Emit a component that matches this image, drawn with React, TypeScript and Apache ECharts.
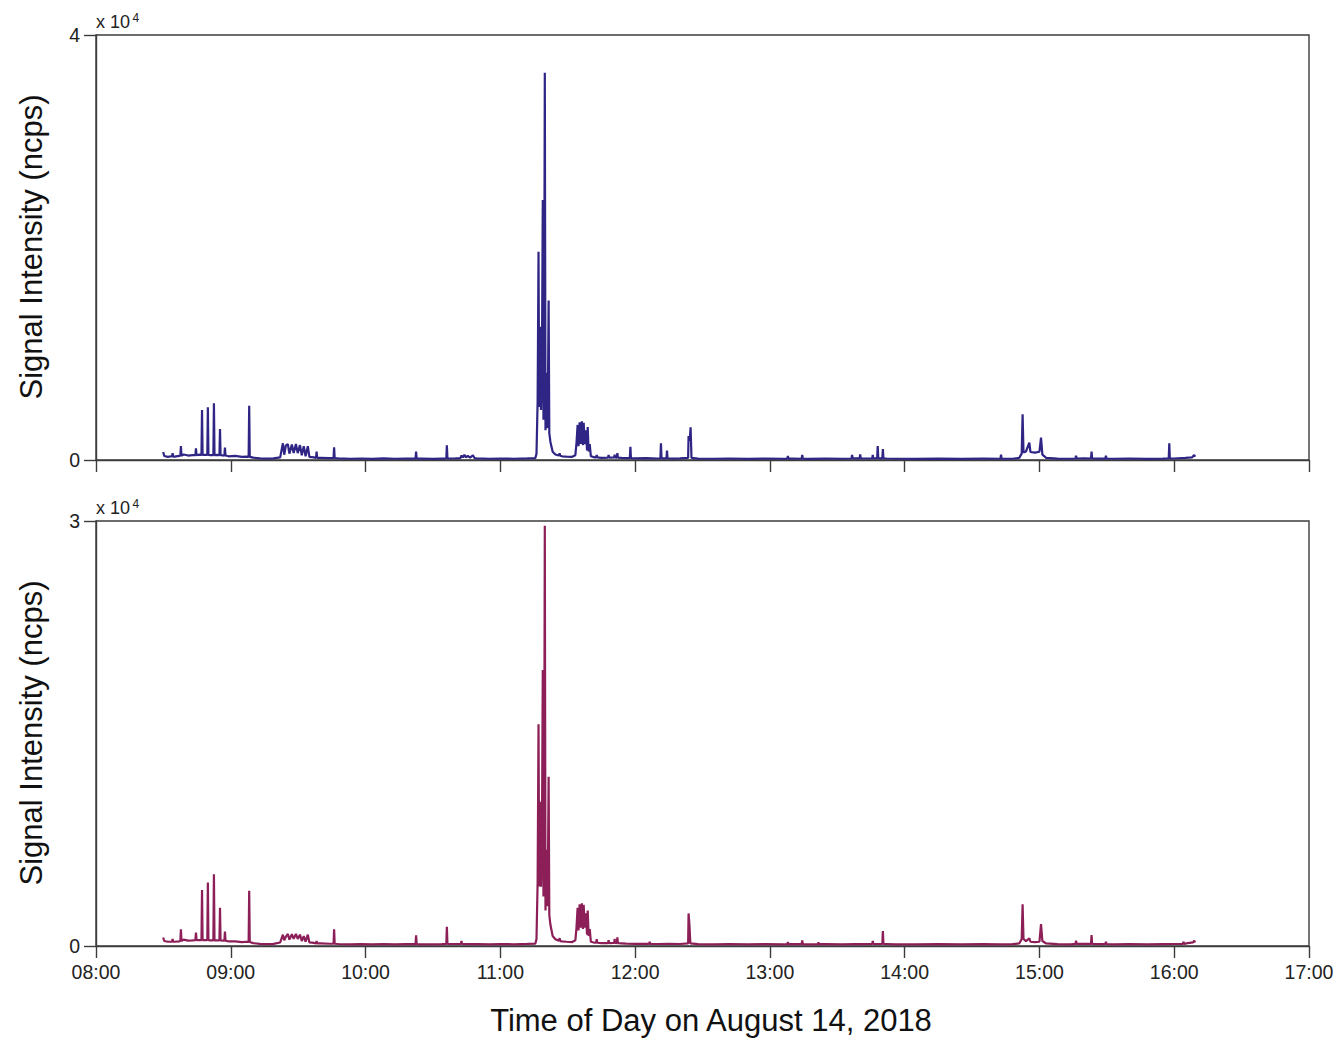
import React, { useEffect, useRef } from "react";
import * as echarts from "echarts";

// time in minutes after midnight, value in ncps
const topBaseline: [number, number][] = [
  [509.9, 750], [510.4, 380], [512, 300], [513.5, 350], [515, 320], [517, 380], [519, 520], [521, 420],
  [523, 450], [526, 500], [528.5, 480], [531, 450], [534, 480], [536.5, 430], [539, 350], [542, 380],
  [545, 300], [547, 320], [550, 220], [553, 150], [556, 130], [559, 160], [562, 250],
  [563.2, 1570], [563.8, 500], [564.5, 1350], [565.4, 1500], [566.1, 600], [567.2, 1450], [568, 650],
  [569, 1500], [569.8, 650], [570.8, 1400], [571.6, 450], [572.5, 1300], [573.3, 350], [574.3, 1300], [575, 300],
  [577, 250], [580, 200], [584, 180], [588, 150], [593, 120], [598, 140], [603, 110], [608, 150], [613, 120],
  [618, 140], [625, 130], [630, 110], [634, 130], [640, 150], [642.2, 180], [642.7, 420], [643.3, 250], [644, 500],
  [644.6, 260], [645.5, 380], [646.5, 220], [647.8, 450], [648.5, 180], [649.5, 150], [655, 120], [660, 140],
  [666, 120], [672, 150], [675.6, 180],
  [676.1, 600], [676.6, 5500], [677.0, 19600], [677.3, 5000], [677.6, 9000], [677.8, 12550], [678.1, 4700],
  [678.5, 8500], [678.9, 24470], [679.2, 3800], [679.5, 9500], [679.8, 36450], [680.1, 2800], [680.4, 8200],
  [680.8, 3000], [681.2, 6500], [681.5, 15000], [681.8, 2540], [682.3, 1700], [683.3, 780], [684.5, 520],
  [686, 420], [687.5, 350], [689.4, 310], [692, 300], [693.4, 450],
  [693.9, 1600], [694.4, 3300], [694.8, 1300], [695.3, 3550], [695.8, 1500], [696.3, 3650], [696.8, 1400],
  [697.1, 3500], [697.6, 1500], [698.1, 2800], [698.6, 900], [698.9, 3100], [699.3, 800], [699.8, 1500], [700.3, 350],
  [702, 250], [705, 200], [708, 230], [711, 250], [714, 200], [716, 180], [720, 150], [725, 170], [730, 140],
  [733, 160], [737, 130], [740, 150], [743.6, 200], [743.8, 2260], [744.3, 1800], [744.7, 3080], [745.1, 200],
  [748, 130], [755, 120], [762, 140], [770, 110], [778, 130], [786, 120], [790, 140], [797, 110], [805, 130],
  [812, 120], [818, 150], [823, 140], [826, 160], [832, 140], [836, 120], [845, 110], [855, 130], [865, 110],
  [875, 130], [882, 120], [888, 120], [891, 200], [892.1, 600], [892.5, 4300], [892.9, 700], [894, 800],
  [895.5, 1630], [896, 750], [898, 700], [900, 780], [900.7, 2100], [901.3, 500], [903, 200], [908, 130],
  [914, 120], [920, 150], [926, 130], [933, 120], [940, 140], [948, 110], [955, 130], [960, 140], [965, 200],
  [968, 250], [968.9, 470], [969.3, 300],
];

// [time, peak, surrounding level]
const topSpikes: [number, number, number][] = [
  [514.1, 650, 320], [517.8, 1300, 400], [524.5, 1100, 450], [527.2, 4700, 480], [529.8, 4960, 470],
  [532.5, 5330, 460], [535.2, 2920, 450], [537.4, 1160, 420], [548.2, 5110, 300], [578.2, 780, 200],
  [586.0, 1190, 170], [622.5, 780, 130], [636.2, 1380, 140], [686.4, 630, 400], [702.9, 480, 250],
  [708.2, 470, 230], [710.9, 500, 240], [712.1, 650, 230], [717.9, 1250, 180], [731.5, 1570, 150],
  [734.2, 880, 150], [788.0, 380, 130], [794.4, 470, 120], [816.6, 470, 140], [820.2, 530, 150],
  [825.8, 470, 150], [828.0, 1320, 160], [830.3, 1040, 150], [882.9, 500, 120], [916.3, 400, 140],
  [923.2, 780, 140], [929.6, 400, 130], [957.8, 1570, 140],
];

const bottomBaseline: [number, number][] = [
  [509.9, 600], [510.4, 350], [512, 300], [515, 300], [517, 330], [519, 450], [521, 380], [523, 400],
  [526, 420], [528.5, 420], [531, 400], [534, 400], [536.5, 380], [539, 320], [542, 330], [545, 280],
  [547, 300], [550, 200], [553, 150], [556, 130], [559, 150], [562, 250],
  [563.2, 800], [563.8, 400], [564.5, 650], [565.4, 850], [566.1, 450], [567.2, 830], [568, 500], [569, 850],
  [569.8, 500], [570.8, 800], [571.6, 350], [572.5, 700], [573.3, 300], [574.3, 800], [575, 250],
  [577, 220], [580, 180], [584, 160], [588, 140], [593, 120], [598, 130], [603, 110], [608, 140], [613, 120],
  [618, 130], [625, 120], [630, 110], [634, 130], [640, 140], [646, 130], [650, 140], [655, 120], [660, 140],
  [666, 120], [672, 150], [675.6, 170],
  [676.1, 500], [676.6, 4500], [677.0, 15650], [677.3, 4200], [677.6, 7500], [677.8, 10180], [678.1, 4190],
  [678.5, 7000], [678.9, 19480], [679.2, 3500], [679.5, 8000], [679.8, 29660], [680.1, 2500], [680.4, 6800],
  [680.8, 2800], [681.2, 5500], [681.5, 11950], [681.8, 2200], [682.3, 1500], [683.3, 700], [684.5, 480],
  [686, 380], [687.5, 330], [689.4, 300], [692, 280], [693.4, 400],
  [693.9, 1300], [694.4, 2700], [694.8, 1100], [695.3, 2950], [695.8, 1300], [696.3, 3010], [696.8, 1200],
  [697.1, 2900], [697.6, 1300], [698.1, 2300], [698.6, 800], [698.9, 2500], [699.3, 700], [699.8, 1200], [700.3, 300],
  [702, 230], [705, 200], [708, 200], [711, 210], [714, 190], [716, 170], [720, 150], [725, 160], [730, 140],
  [735, 150], [740, 140], [743.6, 180], [743.8, 2300], [744.2, 1460], [744.6, 180], [748, 130], [755, 120],
  [762, 140], [770, 110], [778, 130], [786, 120], [790, 140], [797, 110], [805, 130], [812, 120], [818, 140],
  [823, 130], [832, 140], [836, 120], [845, 110], [855, 130], [865, 110], [875, 130], [882, 120], [888, 130],
  [891, 180], [892.1, 500], [892.5, 2940], [892.9, 500], [894, 350], [895.5, 540], [896, 300], [898, 280],
  [900, 300], [900.7, 1550], [901.3, 350], [903, 180], [908, 130], [914, 120], [920, 150], [926, 130],
  [933, 120], [940, 140], [948, 110], [955, 130], [960, 140], [966, 200], [968.4, 250], [968.9, 380], [969.3, 250],
];

const bottomSpikes: [number, number, number][] = [
  [514.1, 500, 300], [517.8, 1180, 350], [524.5, 940, 420], [527.2, 3950, 420], [529.8, 4490, 410],
  [532.5, 5060, 400], [535.2, 2700, 400], [537.4, 1010, 380], [548.2, 3900, 280], [578.2, 350, 180],
  [586.0, 1180, 160], [622.5, 760, 130], [636.2, 1360, 140], [642.7, 350, 140], [686.4, 550, 350],
  [702.9, 490, 230], [708.2, 400, 200], [710.9, 500, 210], [712.1, 610, 200], [726.5, 300, 150],
  [788.0, 280, 130], [794.4, 400, 130], [801.6, 250, 130], [825.8, 350, 140], [830.3, 1060, 140],
  [916.3, 380, 150], [923.2, 780, 150], [929.6, 300, 140], [964.1, 300, 150],
];

const xTicks = [480, 540, 600, 660, 720, 780, 840, 900, 960, 1020];
const topMax = 40000;
const bottomMax = 30000;
const topColor = "#2e2584";
const bottomColor = "#8c1f57";

function buildPoints(base: [number, number][], spikes: [number, number, number][]) {
  const pts: [number, number][] = base.map((p) => [p[0], p[1]]);
  for (const [t, p, b] of spikes) {
    pts.push([t - 0.25, b], [t, p], [t + 0.25, b]);
  }
  pts.sort((a, b) => a[0] - b[0]);
  return pts;
}

const FONT = '"Liberation Sans", Arial, Helvetica, sans-serif';

export default function App() {
  const ref = useRef<HTMLDivElement>(null);
  useEffect(() => {
    document.body.style.margin = "0";
    const chart = echarts.init(ref.current!, undefined, { renderer: "svg" });
    const axisColor = "#3c3c3c";
    const fmt = (v: number) => `${String(Math.floor(v / 60)).padStart(2, "0")}:00`;
    const xAxisBase = (idx: number, showLabels: boolean) => ({
      type: "value",
      gridIndex: idx,
      min: xTicks[0],
      max: xTicks[xTicks.length - 1],
      interval: 60,
      axisLine: { show: true, lineStyle: { color: axisColor, width: 1.4 } },
      axisTick: { show: true, inside: false, length: 12, lineStyle: { color: axisColor, width: 1.4 } },
      axisLabel: {
        show: showLabels,
        formatter: fmt,
        fontSize: 19.5,
        fontFamily: FONT,
        color: "#222",
        margin: 16,
      },
      splitLine: { show: false },
    });
    const yAxisBase = (idx: number, max: number) => ({
      type: "value",
      gridIndex: idx,
      min: 0,
      max,
      interval: max,
      axisLine: { show: true, lineStyle: { color: axisColor, width: 1.4 } },
      axisTick: { show: true, inside: false, length: 12, lineStyle: { color: axisColor, width: 1.4 } },
      axisLabel: {
        formatter: (v: number) => String(v / 10000),
        fontSize: 19.5,
        fontFamily: FONT,
        color: "#222",
        margin: 16,
      },
      splitLine: { show: false },
    });
    const textStyle = (text: string, size: number) => ({
      text,
      font: `${size}px ${FONT}`,
      fill: "#111",
      align: "center",
      verticalAlign: "middle",
    });
    chart.setOption({
      animation: false,
      backgroundColor: "#fff",
      grid: [
        { left: 96, top: 35, width: 1213, height: 425, show: true, borderColor: axisColor, borderWidth: 1.4, backgroundColor: "transparent" },
        { left: 96, top: 521, width: 1213, height: 425, show: true, borderColor: axisColor, borderWidth: 1.4, backgroundColor: "transparent" },
      ],
      xAxis: [xAxisBase(0, false), xAxisBase(1, true)],
      yAxis: [yAxisBase(0, topMax), yAxisBase(1, bottomMax)],
      series: [
        {
          type: "line",
          xAxisIndex: 0,
          yAxisIndex: 0,
          data: buildPoints(topBaseline, topSpikes),
          showSymbol: false,
          lineStyle: { color: topColor, width: 2.2 },
          itemStyle: { color: topColor },
        },
        {
          type: "line",
          xAxisIndex: 1,
          yAxisIndex: 1,
          data: buildPoints(bottomBaseline, bottomSpikes),
          showSymbol: false,
          lineStyle: { color: bottomColor, width: 2.2 },
          itemStyle: { color: bottomColor },
        },
      ],
      graphic: [
        { type: "text", x: 96, y: 22, style: { text: "x 10", font: `18px ${FONT}`, fill: "#222", align: "left", verticalAlign: "middle" } },
        { type: "text", x: 132.5, y: 18, style: { text: "4", font: `12px ${FONT}`, fill: "#222", align: "left", verticalAlign: "middle" } },
        { type: "text", x: 96, y: 508, style: { text: "x 10", font: `18px ${FONT}`, fill: "#222", align: "left", verticalAlign: "middle" } },
        { type: "text", x: 132.5, y: 504, style: { text: "4", font: `12px ${FONT}`, fill: "#222", align: "left", verticalAlign: "middle" } },
        { type: "text", x: 31, y: 247, rotation: Math.PI / 2, style: textStyle("Signal Intensity (ncps)", 31) },
        { type: "text", x: 31, y: 733, rotation: Math.PI / 2, style: textStyle("Signal Intensity (ncps)", 31) },
        { type: "text", x: 711, y: 1020, style: textStyle("Time of Day on August 14, 2018", 31) },
      ],
    });
    return () => chart.dispose();
  }, []);
  return <div ref={ref} style={{ width: 1340, height: 1038 }} />;
}
